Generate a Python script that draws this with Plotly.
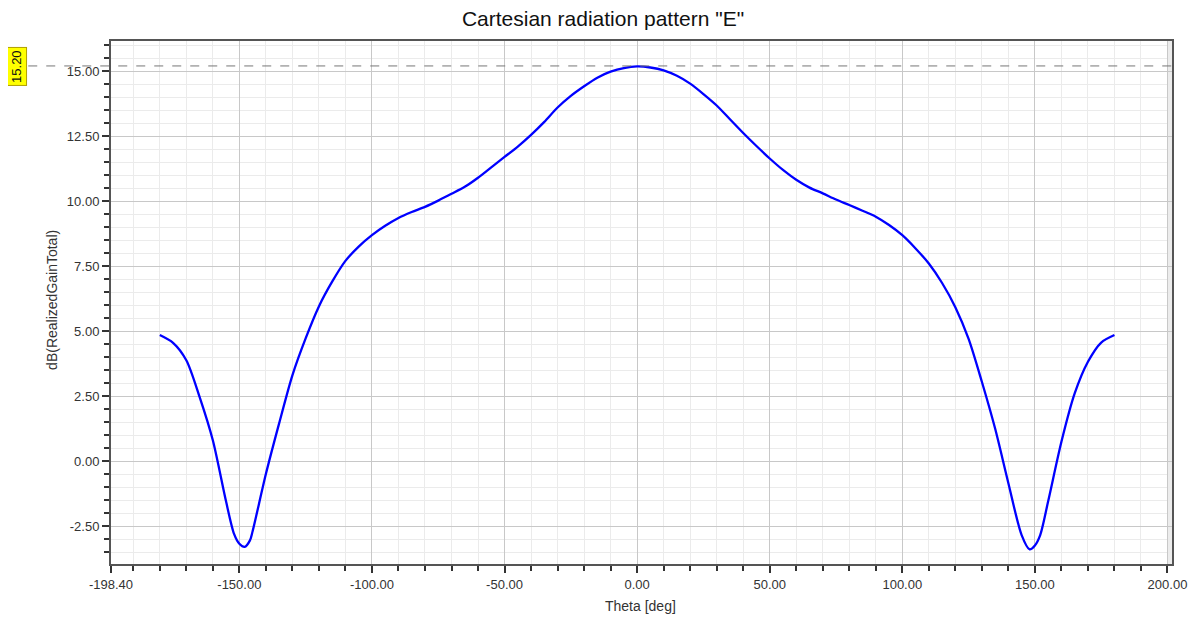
import plotly.graph_objects as go

theta = [-180, -175, -170, -165, -160, -155, -152, -150, -148, -146, -145, -140, -135, -130, -125,
         -120, -115, -110, -105, -100, -95, -90, -85, -80, -75, -70, -65, -60, -55, -50, -45,
         -40, -35, -30, -25, -20, -15, -10, -5, 0, 5, 10, 15, 20, 25, 30, 35, 40, 45, 50, 55,
         60, 65, 70, 75, 80, 85, 90, 95, 100, 105, 110, 115, 120, 125, 130, 135, 140, 145,
         148, 150, 152, 155, 160, 165, 170, 175, 180]
gain_db = [4.85, 4.55, 3.88, 2.47, 0.80, -1.56, -2.80, -3.18, -3.30, -3.05, -2.70, -0.50, 1.45, 3.30, 4.72,
           5.95, 6.90, 7.70, 8.25, 8.69, 9.05, 9.35, 9.58, 9.78, 10.02, 10.28, 10.55, 10.90, 11.30, 11.70, 12.10,
           12.55, 13.05, 13.60, 14.05, 14.42, 14.75, 14.98, 15.12, 15.18, 15.14, 15.03, 14.82, 14.52, 14.12, 13.68, 13.15, 12.62, 12.12, 11.64, 11.20,
           10.82, 10.52, 10.30, 10.06, 9.85, 9.63, 9.40, 9.08, 8.69, 8.18, 7.60, 6.85, 5.92, 4.70, 3.05, 1.25, -0.85, -2.85,
           -3.40, -3.25, -2.85, -1.55, 0.74, 2.60, 3.82, 4.56, 4.85]

x_tick_vals = [-198.4, -150, -100, -50, 0, 50, 100, 150, 200]
x_tick_text = ["-198.40", "-150.00", "-100.00", "-50.00", "0.00", "50.00", "100.00", "150.00", "200.00"]
y_tick_vals = [-2.5, 0, 2.5, 5, 7.5, 10, 12.5, 15]
y_tick_text = ["-2.50", "0.00", "2.50", "5.00", "7.50", "10.00", "12.50", "15.00"]
marker_value = 15.20
marker_label = "15.20"

x_range = [-198.4, 201.7]
y_range = [-3.96, 16.16]

fig = go.Figure()
fig.add_trace(go.Scatter(x=theta, y=gain_db, mode="lines",
                         line=dict(color="#0000ff", width=2.3, shape="spline", smoothing=0.8),
                         showlegend=False, hoverinfo="x+y"))

font = "Liberation Sans, Arial, sans-serif"

# page body has an 8px margin: figure is sized/offset to compensate
fig.update_layout(
    width=1190, height=609,
    margin=dict(l=103, r=26, t=33, b=53),
    paper_bgcolor="white", plot_bgcolor="white",
    title=dict(text='Cartesian radiation pattern "E"', x=0.5, xanchor="center", y=1 - 11 / 609, yanchor="middle",
               font=dict(family=font, size=21, color="#111")),
    font=dict(family=font, size=13, color="#333"),
    xaxis=dict(range=x_range, tickmode="array", tickvals=x_tick_vals, ticktext=x_tick_text,
               showgrid=True, gridcolor="#c8c8c8", gridwidth=1,
               ticks="outside", ticklen=7, tickwidth=2, tickcolor="#333",
               showline=True, linecolor="#555", linewidth=2, mirror=True,
               zeroline=False, tickfont=dict(size=13, color="#333"),
               minor=dict(tickmode="linear", tick0=0, dtick=10, showgrid=True, gridcolor="#ebebeb",
                          ticks="outside", ticklen=5, tickwidth=2, tickcolor="#333")),
    yaxis=dict(range=y_range, tickmode="array", tickvals=y_tick_vals, ticktext=y_tick_text,
               showgrid=True, gridcolor="#c8c8c8", gridwidth=1,
               ticks="outside", ticklen=7, tickwidth=1.5, tickcolor="#333",
               showline=True, linecolor="#555", linewidth=2, mirror=True,
               zeroline=False, tickfont=dict(size=13, color="#333"),
               minor=dict(tickmode="linear", tick0=0, dtick=0.5, showgrid=True, gridcolor="#ebebeb",
                          ticks="outside", ticklen=5, tickwidth=2, tickcolor="#333")),
)

# light band at right edge
fig.add_shape(type="rect", xref="x", yref="paper", x0=200, x1=x_range[1], y0=0, y1=1,
              fillcolor="#ececec", line_width=0, layer="below")

# marker dashed line
fig.add_shape(type="line", xref="paper", yref="y", x0=-0.078, x1=1, y0=marker_value, y1=marker_value,
              line=dict(color="#777777", width=1, dash="dash"))
fig.add_annotation(xref="paper", yref="y", x=-0.0886, y=marker_value, xanchor="center", yanchor="middle",
                   text=marker_label, textangle=-90, showarrow=False, bgcolor="#ffff00", bordercolor="#b0a000",
                   borderwidth=1, borderpad=2, font=dict(family=font, size=13, color="#111"))

fig.add_annotation(xref="paper", yref="paper", x=0.4995, y=-42 / 523, xanchor="center", yanchor="middle",
                   text="Theta [deg]", showarrow=False, font=dict(family=font, size=14, color="#333"))
fig.add_annotation(xref="paper", yref="paper", x=(52 - 111) / 1061, y=0.505, xanchor="center", yanchor="middle",
                   textangle=-90, text="dB(RealizedGainTotal)", showarrow=False,
                   font=dict(family=font, size=14, color="#333"))

fig.write_html("out.html")
